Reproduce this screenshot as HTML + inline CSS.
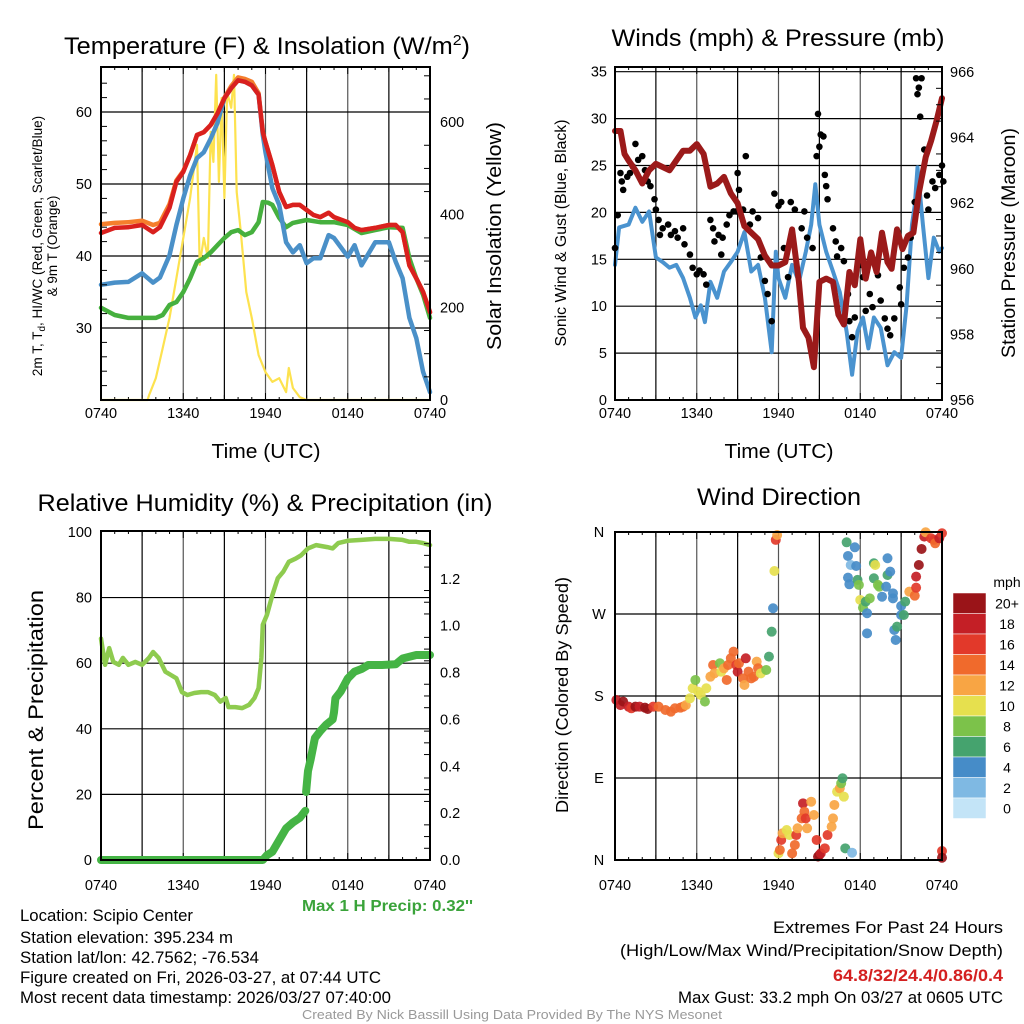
<!DOCTYPE html>
<html><head><meta charset="utf-8"><style>
html,body{margin:0;padding:0;background:#fff;}
svg{display:block;font-family:"Liberation Sans",Arial,sans-serif;}
</style></head><body>
<svg id="chart" width="1024" height="1024" viewBox="0 0 1024 1024" xmlns="http://www.w3.org/2000/svg">
<rect x="0" y="0" width="1024" height="1024" fill="#fff"/>
<g id="layer"></g>
<text x="64" y="54" font-size="24" textLength="406" lengthAdjust="spacingAndGlyphs">Temperature (F) &amp; Insolation (W/m<tspan dy="-9" font-size="15">2</tspan><tspan dy="9">)</tspan></text>
<text x="778" y="46" font-size="24" text-anchor="middle" textLength="333" lengthAdjust="spacingAndGlyphs">Winds (mph) &amp; Pressure (mb)</text>
<text x="265" y="511" font-size="24" text-anchor="middle" textLength="455" lengthAdjust="spacingAndGlyphs">Relative Humidity (%) &amp; Precipitation (in)</text>
<text x="779" y="505" font-size="24" text-anchor="middle" textLength="164" lengthAdjust="spacingAndGlyphs">Wind Direction</text>
<text x="266" y="458" font-size="20" text-anchor="middle" textLength="109" lengthAdjust="spacingAndGlyphs">Time (UTC)</text>
<text x="779" y="458" font-size="20" text-anchor="middle" textLength="109" lengthAdjust="spacingAndGlyphs">Time (UTC)</text>
<text transform="translate(42,246) rotate(-90)" font-size="13.5" text-anchor="middle">2m T, T<tspan dy="3" font-size="10">d</tspan><tspan dy="-3">, HI/WC (Red, Green, Scarlet/Blue)</tspan></text>
<text transform="translate(57,246) rotate(-90)" font-size="13.5" text-anchor="middle">&amp; 9m T (Orange)</text>
<text transform="translate(501,236) rotate(-90)" font-size="20" text-anchor="middle" textLength="228" lengthAdjust="spacingAndGlyphs">Solar Insolation (Yellow)</text>
<text transform="translate(566,233) rotate(-90)" font-size="16" text-anchor="middle" textLength="227" lengthAdjust="spacingAndGlyphs">Sonic Wind &amp; Gust (Blue, Black)</text>
<text transform="translate(1015,243) rotate(-90)" font-size="19.5" text-anchor="middle" textLength="230" lengthAdjust="spacingAndGlyphs">Station Pressure (Maroon)</text>
<text transform="translate(43,710) rotate(-90)" font-size="21" text-anchor="middle" textLength="240" lengthAdjust="spacingAndGlyphs">Percent &amp; Precipitation</text>
<text transform="translate(568,695) rotate(-90)" font-size="17.5" text-anchor="middle" textLength="236" lengthAdjust="spacingAndGlyphs">Direction (Colored By Speed)</text>
<text x="302" y="911" font-size="16" font-weight="bold" fill="#3aa33a" textLength="171" lengthAdjust="spacingAndGlyphs">Max 1 H Precip: 0.32''</text>
<g font-size="16.5">
<text x="20" y="921" textLength="173" lengthAdjust="spacingAndGlyphs">Location: Scipio Center</text>
<text x="20" y="943" textLength="213" lengthAdjust="spacingAndGlyphs">Station elevation: 395.234 m</text>
<text x="20" y="963" textLength="239" lengthAdjust="spacingAndGlyphs">Station lat/lon: 42.7562; -76.534</text>
<text x="20" y="983" textLength="361" lengthAdjust="spacingAndGlyphs">Figure created on Fri, 2026-03-27, at 07:44 UTC</text>
<text x="20" y="1003" textLength="371" lengthAdjust="spacingAndGlyphs">Most recent data timestamp: 2026/03/27 07:40:00</text>
</g>
<g font-size="17" text-anchor="end">
<text x="1003" y="933" textLength="230" lengthAdjust="spacingAndGlyphs">Extremes For Past 24 Hours</text>
<text x="1003" y="956" textLength="383" lengthAdjust="spacingAndGlyphs">(High/Low/Max Wind/Precipitation/Snow Depth)</text>
<text x="1003" y="981" font-weight="bold" fill="#d42020" textLength="170" lengthAdjust="spacingAndGlyphs">64.8/32/24.4/0.86/0.4</text>
<text x="1003" y="1003" textLength="325" lengthAdjust="spacingAndGlyphs">Max Gust: 33.2 mph On 03/27 at 0605 UTC</text>
</g>
<text x="512" y="1019" font-size="13" fill="#999" text-anchor="middle" textLength="420" lengthAdjust="spacingAndGlyphs">Created By Nick Bassill Using Data Provided By The NYS Mesonet</text>
</svg>
<script>
// ---------- data (hours since 0740 UTC) ----------
const xTickLabels = ["0740","1340","1940","0140","0740"];
const tempHours = [0,1,2,3,3.8,4.3,5,5.5,6,6.5,7,7.5,8,8.5,9,9.5,10,10.5,11,11.5,11.8,12,12.5,13,13.5,14,14.5,15,15.5,16,16.6,17,18,18.5,19,20,21,21.5,22,22.5,23,23.5,24];
const tempRed = [43.2,43.9,44.0,44.3,43.3,44.0,46.7,50.3,51.7,54.0,56.8,57.2,58.2,59.8,61.9,63.3,64.4,64.2,63.7,62.4,57.2,55.8,52.6,48.9,46.8,47.1,47.1,46.4,45.7,45.4,46.0,45.4,44.7,43.9,43.6,43.9,44.3,44.3,43.3,38.7,36.9,35.0,32.2];
const tempOrange = [44.4,44.6,44.7,44.9,44.3,44.6,47.2,50.5,51.8,54.0,56.8,57.2,58.2,59.8,62.0,63.6,64.8,64.6,64.2,62.6,57.2,55.8,52.6,48.9,46.8,47.1,47.1,46.4,45.7,45.4,46.0,45.4,44.7,43.9,43.6,43.9,44.3,44.3,43.3,38.7,36.9,35.0,32.2];
const tempBlue = [36.0,36.3,36.4,37.6,36.3,37.0,40.1,44.3,48.0,51.2,53.6,54.4,56.3,58.5,61.9,63.3,64.4,64.2,63.7,62.4,56.8,54.4,49.4,47.1,41.9,40.5,41.5,39.0,39.7,39.7,42.9,42.5,39.9,41.5,38.7,41.9,41.9,39.2,36.9,31.4,28.6,23.9,21.1];
const dewHours = [0,1,2,3,4,4.5,5,5.5,6,6.5,7,7.5,8,8.5,9,9.5,10,10.5,11,11.5,11.8,12.2,12.5,13,13.5,14,15,16,17,18,19,20,21,22,22.5,23,23.5,24];
const dewGreen = [32.8,31.8,31.4,31.4,31.4,31.8,33.2,33.6,35.0,36.9,39.2,39.7,40.5,41.5,42.5,43.3,43.6,42.9,43.3,44.7,47.5,47.4,47.1,45.3,44.0,44.6,45.0,44.7,44.7,44.3,43.2,43.6,44.0,43.9,39.7,36.9,34.6,31.4];
const solarHours = [0,3.4,3.5,4,4.5,5,5.5,6,6.5,7,7.2,7.5,7.8,8,8.2,8.4,8.6,8.8,9,9.2,9.5,9.7,9.9,10.2,10.6,11,11.5,12,12.5,13,13.5,13.7,14,14.5,15,24];
const solarValues = [0,0,10,47,112,177,263,350,436,551,292,350,307,579,514,702,471,652,436,665,631,702,449,363,233,177,97,60,39,47,17,69,26,6,0,0];
const tempTicks = [30,40,50,60];
const solarTicks = [0,200,400,600];

const windHours = [0,0.3,1,1.5,2,2.5,3,3.5,4,4.5,5,5.5,5.9,6.3,6.6,7,7.5,8,8.5,9,9.5,10,10.5,11,11.5,11.8,12,12.5,13,13.5,14,14.4,14.7,15,15.5,16,16.5,17,17.4,17.8,18.2,18.6,19,19.5,20,20.5,21,21.4,21.8,22,22.2,22.6,23,23.4,23.8,24];
const windSpeed = [14.4,18.4,18.7,20.5,19.0,20.1,15.2,14.7,14.1,14.4,13.0,10.9,8.8,10.1,8.3,12.6,10.9,13.7,14.7,15.8,17.9,13.7,14.4,10.9,5.1,15.8,13.0,10.9,14.4,12.6,15.8,18.7,23.0,18.7,15.8,13.7,11.5,7.3,2.7,7.3,8.8,5.5,8.8,7.7,3.7,5.1,4.5,10.1,18.7,20.8,24.8,18.7,13.0,17.3,15.8,16.2];
const pressHours = [0,0.4,0.7,1,1.5,2,2.5,3,3.5,4,4.5,5,5.5,6,6.5,7,7.5,8,8.5,9,9.5,10,10.5,11,11.5,12,12.5,13,13.5,13.8,14.2,14.6,15,15.5,16,16.4,16.8,17.2,17.6,18,18.4,18.8,19.2,19.6,20,20.3,20.7,21.1,21.5,21.9,22.3,22.8,23.2,23.6,24];
const pressure = [964.2,964.2,963.5,963.3,963.0,962.6,963.0,963.2,963.1,963.0,963.3,963.6,963.6,963.8,963.5,962.5,962.6,962.8,962.3,962.0,961.3,961.1,960.9,960.4,960.1,960.1,960.2,961.2,959.6,958.2,957.9,957.0,959.6,959.7,959.6,958.6,958.3,959.9,959.5,960.9,959.7,960.5,959.9,961.1,960.2,960.0,961.2,960.6,961.0,961.1,962.3,963.4,963.9,964.5,965.2];
const gustHours = [0,0.2,0.4,0.5,0.6,0.9,1.1,1.3,1.5,1.7,2.0,2.2,2.4,2.6,2.9,3.0,3.2,3.3,3.5,3.9,4.1,4.4,4.6,5.0,5.1,5.5,5.7,6.0,6.2,6.5,6.7,7.0,7.2,7.3,7.6,7.8,7.9,8.2,8.4,8.7,8.9,9.0,9.1,9.4,9.6,9.9,10.1,10.5,10.7,11.0,11.2,11.5,11.7,12.0,12.2,12.4,12.7,12.9,13.2,13.7,13.9,14.1,14.5,14.8,14.9,15.0,15.1,15.3,15.4,15.5,15.6,16.0,16.2,16.3,16.6,16.8,17.1,17.2,17.4,17.6,18.0,18.2,18.4,18.7,18.9,19.3,19.5,19.8,20.0,20.2,20.5,20.9,21.0,21.2,21.5,21.7,22.0,22.1,22.2,22.3,22.4,22.5,22.7,22.9,23.0,23.3,23.5,23.8,24.0,24.1];
const gustSpeed = [16.2,19.7,24.2,23.3,22.4,23.8,24.2,24.9,27.3,25.6,26.0,24.5,23.3,22.8,21.4,20.3,19.2,17.6,18.3,18.7,17.6,18.0,17.3,18.3,16.6,15.5,14.1,13.4,13.8,13.4,12.3,19.2,18.3,16.9,17.6,15.5,17.3,18.7,19.7,20.1,20.1,24.2,22.4,20.3,26.0,18.7,20.1,19.4,15.2,12.7,11.3,8.4,22.0,20.7,21.1,16.2,13.1,21.1,20.3,18.3,20.1,17.3,16.2,26.0,30.5,27.0,28.3,28.1,24.0,22.8,21.4,18.3,16.9,15.3,16.2,14.8,11.3,8.4,6.7,8.8,14.4,13.1,9.5,11.3,9.9,13.3,10.6,8.7,7.6,6.9,8.7,12.0,10.2,14.1,15.2,17.3,21.1,34.3,32.6,33.3,30.2,34.3,26.7,21.8,20.3,23.3,22.6,24.0,25.0,23.3];
const windTicks = [0,5,10,15,20,25,30,35];
const pressTicks = [956,958,960,962,964,966];

const rhHours = [0,0.3,0.6,0.9,1.3,1.6,2,2.5,3,3.5,3.8,4.2,4.7,5.1,5.5,5.9,6.3,6.8,7.3,7.8,8.3,8.7,9.1,9.3,9.8,10.3,10.8,11.2,11.5,11.7,11.8,12.1,12.5,12.9,13.3,13.7,14.2,14.6,15.1,15.7,16.5,16.9,17.3,18,19,20,21,22,22.5,23,23.5,24];
const rhValues = [67.5,59.5,64.6,60.4,59.5,61.6,59.5,60.4,59.5,61.6,63.4,61.6,57.4,56.4,55.4,51.2,50.3,50.9,51.2,51.2,50.3,48.3,49.4,46.6,46.6,46.3,47.3,49.4,52.4,61.6,71.7,74.7,80.8,85.9,87.9,90.9,91.9,92.9,95.0,96.0,95.4,95.0,96.6,97.3,97.6,97.9,97.9,97.6,97.0,97.0,96.6,96.0];
const precipHours = [0,11.8,12.1,12.5,13,13.5,14,14.5,14.9,14.95,14.96,15.1,15.3,15.6,16,16.4,16.9,17,17.1,17.5,18,18.5,19,19.5,20.5,21.5,22,23,24];
const precipValues = [0,0,0.02,0.035,0.085,0.135,0.16,0.18,0.21,null,0.29,0.38,0.43,0.52,0.55,0.576,0.60,0.63,0.69,0.72,0.775,0.804,0.815,0.832,0.832,0.835,0.86,0.875,0.875];
const rhTicks = [0,20,40,60,80,100];
const precipTicks = [0,0.2,0.4,0.6,0.8,1.0,1.2];
const precipTickLabels = ["0.0","0.2","0.4","0.6","0.8","1.0","1.2"];

const dirHours = [0.1,0.4,0.6,1.0,1.2,1.5,1.8,2.2,2.4,2.8,3.2,3.7,4.1,4.4,4.8,5.0,5.2,5.5,5.7,5.9,6.1,6.3,6.6,6.7,7.0,7.2,7.3,7.7,7.8,8.0,8.2,8.3,8.5,8.7,8.9,9.0,9.1,9.4,9.5,9.6,9.8,10.0,10.2,10.4,10.5,10.7,11.1,11.3,11.5,11.6,11.7,11.8,11.9,
12.0,12.1,12.2,12.3,12.6,12.8,13.0,13.2,13.3,13.4,13.7,13.8,13.9,14.0,14.1,14.4,14.6,14.8,14.9,15.0,15.1,15.4,15.6,15.9,16.0,16.1,16.3,16.5,16.6,16.7,16.8,16.9,17.4,
17.0,17.1,17.3,17.6,17.7,17.1,17.2,17.8,17.9,18.0,18.2,18.4,18.7,18.5,18.5,19.0,19.1,19.0,19.3,19.4,19.6,19.9,20.0,20.0,20.2,20.4,20.4,21.0,21.0,21.2,21.3,20.5,20.7,20.6,21.6,22.0,22.1,22.1,22.3,22.5,22.7,22.8,23.2,23.4,23.5,23.8,24.0,24.0,24.0];
const dirDegrees = [175.6,170,173.8,168.3,166.5,168.3,168.3,167.2,165.8,168.3,168.3,164.7,162.8,166.5,167.2,168.3,170,177.5,188.5,197.6,184.8,181.1,173.8,188.5,201.2,214,204.9,215.9,206.7,210.4,197.6,214,221.4,228.7,214,206.7,215.9,199.4,192.1,221.4,206.7,199.4,201.2,217.7,210.4,204.9,208.6,223.2,250.6,276.3,317.2,351.3,356.7,
7.3,11,22,29.3,32.9,27.4,7.3,16.5,27.4,34.8,45.7,62.2,53,45.7,34.8,64,49.4,22,3.7,5.5,7.3,12.8,27.4,36.6,45.7,60.4,75,78.7,84.2,89.7,69.5,12.8,8,
348.7,333.7,323.8,343.2,322.7,309.9,302.6,307.4,301.9,285.4,277,283.6,287.2,270.8,248.8,325.7,323.8,309.2,301.9,300,289,300,331.2,312.8,316.5,292.7,287.2,278.8,268.9,268.9,283.6,252.5,256.1,241.5,294.5,290.1,298.9,311,323.8,341.4,354.9,359.7,353.1,351.3,347.6,353.1,358.6,9.9,2.5];
const dirSpeed = [18,18,20,18,16,20,18,20,20,16,14,14,14,14,14,14,12,10,10,8,10,10,8,10,12,14,12,8,10,12,14,14,14,14,16,18,14,14,12,18,14,14,14,12,14,10,8,6,6,4,10,16,12,
10,14,16,12,10,10,14,14,16,12,14,18,14,16,12,12,12,16,20,20,18,16,16,12,12,12,10,12,8,6,10,6,2,
6,4,2,4,4,4,4,6,8,10,8,6,8,4,4,6,10,6,8,8,4,4,4,6,4,4,4,4,4,6,6,4,6,4,12,14,16,18,20,20,18,12,16,16,14,18,16,16,20];
const dirTicks = [0,90,180,270,360];
const dirTickLabels = ["N","E","S","W","N"];
const speedBins = [0,2,4,6,8,10,12,14,16,18,20];
const speedBinLabels = ["0","2","4","6","8","10","12","14","16","18","20+"];
const speedColors = ["#c3e4f7","#7fb9e3","#468cc8","#45a36e","#7cc24a","#e6e04e","#f8a544","#f06a2c","#e2392a","#c41f26","#9a1418"];

// ---------- helpers ----------
const NS = "http://www.w3.org/2000/svg";
const layer = document.getElementById('layer');
const TICKFONT = 14.5;
function mk(tag, attrs, parent){
  const e = document.createElementNS(NS, tag);
  for (const k in attrs) e.setAttribute(k, attrs[k]);
  (parent||layer).appendChild(e);
  return e;
}
function lin(d0,d1,r0,r1){ return v => r0 + (v-d0)/(d1-d0)*(r1-r0); }
function pathD(xs, ys, fx, fy){
  let d = "", pen = false;
  for (let i=0;i<xs.length;i++){
    if (ys[i]===null){ pen=false; continue; }
    d += (pen?"L":"M") + fx(xs[i]).toFixed(1) + "," + fy(ys[i]).toFixed(1);
    pen = true;
  }
  return d;
}
function drawLine(name, xs, ys, fx, fy, color, w){
  const p = mk('path',{d:pathD(xs,ys,fx,fy),fill:'none',stroke:color,'stroke-width':w,'stroke-linejoin':'round','stroke-linecap':'round'});
  
  
  return p;
}
function panel(name, L, R, T, B, hGrid, fy){
  const g = mk('g',{});
  
  
  const fx = lin(0,24,L,R);
  for (let h=3; h<24; h+=3){
    const ln = mk('line',{x1:fx(h),x2:fx(h),y1:T,y2:B,stroke:(h%6===0?'#555':'#000'),'stroke-width':1.2},g);
    
    
  }
  hGrid.forEach(v=>{
    const ln = mk('line',{x1:L,x2:R,y1:fy(v),y2:fy(v),stroke:'#000','stroke-width':1.2},g);
    
    
  });
  for (let h=0; h<=24; h+=1){
    const len = (h%6===0)?7:(h%3===0?5:3);
    mk('line',{x1:fx(h),x2:fx(h),y1:B,y2:B-len,stroke:'#000','stroke-width':1},g);
    mk('line',{x1:fx(h),x2:fx(h),y1:T,y2:T+len,stroke:'#000','stroke-width':1},g);
  }
  return fx;
}
function frame(name, L, R, T, B){
  const r = mk('rect',{x:L,y:T,width:R-L,height:B-T,fill:'none',stroke:'#000','stroke-width':2});
  
  
}
function xLabels(name, fx, y){
  xTickLabels.forEach((s,i)=>{
    const t = mk('text',{x:fx(i*6),y:y,'font-size':TICKFONT,'text-anchor':'middle'});
    t.textContent = s;
    
    
  });
}
function yLabels(name, vals, labels, fy, x, anchor){
  vals.forEach((v,i)=>{
    const t = mk('text',{x:x,y:fy(v)+5,'font-size':TICKFONT,'text-anchor':anchor});
    t.textContent = labels ? labels[i] : String(v);
    
    
  });
}
function yTicks(fy, vals, x, dir){
  vals.forEach(v=>{ mk('line',{x1:x,x2:x+dir*6,y1:fy(v),y2:fy(v),stroke:'#000','stroke-width':1}); });
}

// ---------- Panel 1: temperature ----------
{
  const L=101,R=430,T=67,B=400;
  const fyT = lin(20,66.25,B,T), fyS = lin(0,719,B,T);
  const fx = panel('temperature', L,R,T,B, tempTicks, fyT);
  drawLine('solar-insolation-line', solarHours, solarValues, fx, fyS, '#fde24f', 2.2);
  drawLine('green-dewpoint-line', dewHours, dewGreen, fx, fyT, '#46b03e', 4.5);
  drawLine('orange-9m-temp-line', tempHours, tempOrange, fx, fyT, '#f57e2c', 4.5);
  drawLine('blue-windchill-line', tempHours, tempBlue, fx, fyT, '#4a90c8', 4.5);
  drawLine('red-2m-temp-line', tempHours, tempRed, fx, fyT, '#d9201e', 4.5);
  frame('temperature', L,R,T,B);
  xLabels('temperature', fx, 418);
  yLabels('temp-left', tempTicks, null, fyT, 92, 'end');
  yLabels('solar-right', solarTicks, ["0","200","400","600"], fyS, 440, 'start');
  yTicks(fyS, [50,100,150,250,300,350,450,500,550,650,700], R, -1);
  yTicks(fyT, [22,24,26,28,32,34,36,38,42,44,46,48,52,54,56,58,62,64], L, 1);
}
// ---------- Panel 2: winds ----------
{
  const L=615,R=942,T=67,B=400;
  const fyW = lin(0,35.5,B,T), fyP = lin(956,966.15,B,T);
  const fx = panel('winds', L,R,T,B, windTicks.slice(1), fyW);
  drawLine('sonic-wind-line', windHours, windSpeed, fx, fyW, '#4a93cf', 4);
  gustHours.forEach((h,i)=>{
    const c = mk('circle',{cx:fx(h),cy:fyW(gustSpeed[i]),r:3.3,fill:'#000'});
    
    
  });
  drawLine('pressure-line', pressHours, pressure, fx, fyP, '#9b1a1a', 6);
  frame('winds', L,R,T,B);
  xLabels('winds', fx, 418);
  yLabels('wind-left', windTicks, null, fyW, 607, 'end');
  yLabels('pressure-right', pressTicks, null, fyP, 950, 'start');
  yTicks(fyP, [956.5,957,957.5,958.5,959,959.5,960.5,961,961.5,962.5,963,963.5,964.5,965,965.5], R, -1);
}
// ---------- Panel 3: humidity ----------
{
  const L=101,R=430,T=531,B=860;
  const fyH = lin(0,100.3,B,T), fyPr = lin(0,1.404,B,T);
  const fx = panel('humidity', L,R,T,B, [20,40,60,80], fyH);
  drawLine('relative-humidity-line', rhHours, rhValues, fx, fyH, '#8ecb4f', 4.5);
  drawLine('precipitation-line', precipHours, precipValues, fx, fyPr, '#45b445', 8);
  frame('humidity', L,R,T,B);
  xLabels('humidity', fx, 890);
  yLabels('rh-left', rhTicks, null, fyH, 92, 'end');
  yLabels('precip-right', precipTicks, precipTickLabels, fyPr, 440, 'start');
  yTicks(fyPr, [0.05,0.1,0.15,0.25,0.3,0.35,0.45,0.5,0.55,0.65,0.7,0.75,0.85,0.9,0.95,1.05,1.1,1.15,1.25,1.3,1.35], R, -1);
}
// ---------- Panel 4: direction ----------
{
  const L=615,R=942,T=532,B=860;
  const fyD = lin(0,360,B,T);
  const fx = panel('direction', L,R,T,B, [90,180,270], fyD);
  function colorFor(s){ let k=0; for (let j=0;j<speedBins.length;j++) if (s>=speedBins[j]) k=j; return speedColors[k]; }
  dirHours.forEach((h,i)=>{
    const c = mk('circle',{cx:fx(h),cy:fyD(dirDegrees[i]),r:5,fill:colorFor(dirSpeed[i]),'fill-opacity':0.92});
    
    
  });
  frame('direction', L,R,T,B);
  xLabels('direction', fx, 890);
  dirTicks.forEach((v,i)=>{
    const t = mk('text',{x:599,y:fyD(v)+5,'font-size':TICKFONT,'text-anchor':'middle'});
    t.textContent = dirTickLabels[i];
    
    
  });
  const cb = mk('g',{});
  
  
  const bh = 20.5, top = 593;
  const t0 = mk('text',{x:1007,y:587,'font-size':14,'text-anchor':'middle'},cb);
  t0.textContent = 'mph';
  for (let j=0;j<speedColors.length;j++){
    const idx = speedColors.length-1-j;
    mk('rect',{x:953,y:top+j*bh,width:33,height:bh,fill:speedColors[idx],stroke:'#fff','stroke-width':0.5},cb);
    const t = mk('text',{x:1007,y:top+j*bh+bh/2+5,'font-size':14,'text-anchor':'middle'},cb);
    t.textContent = speedBinLabels[idx];
    
    
  }
}
</script>
</body></html>
